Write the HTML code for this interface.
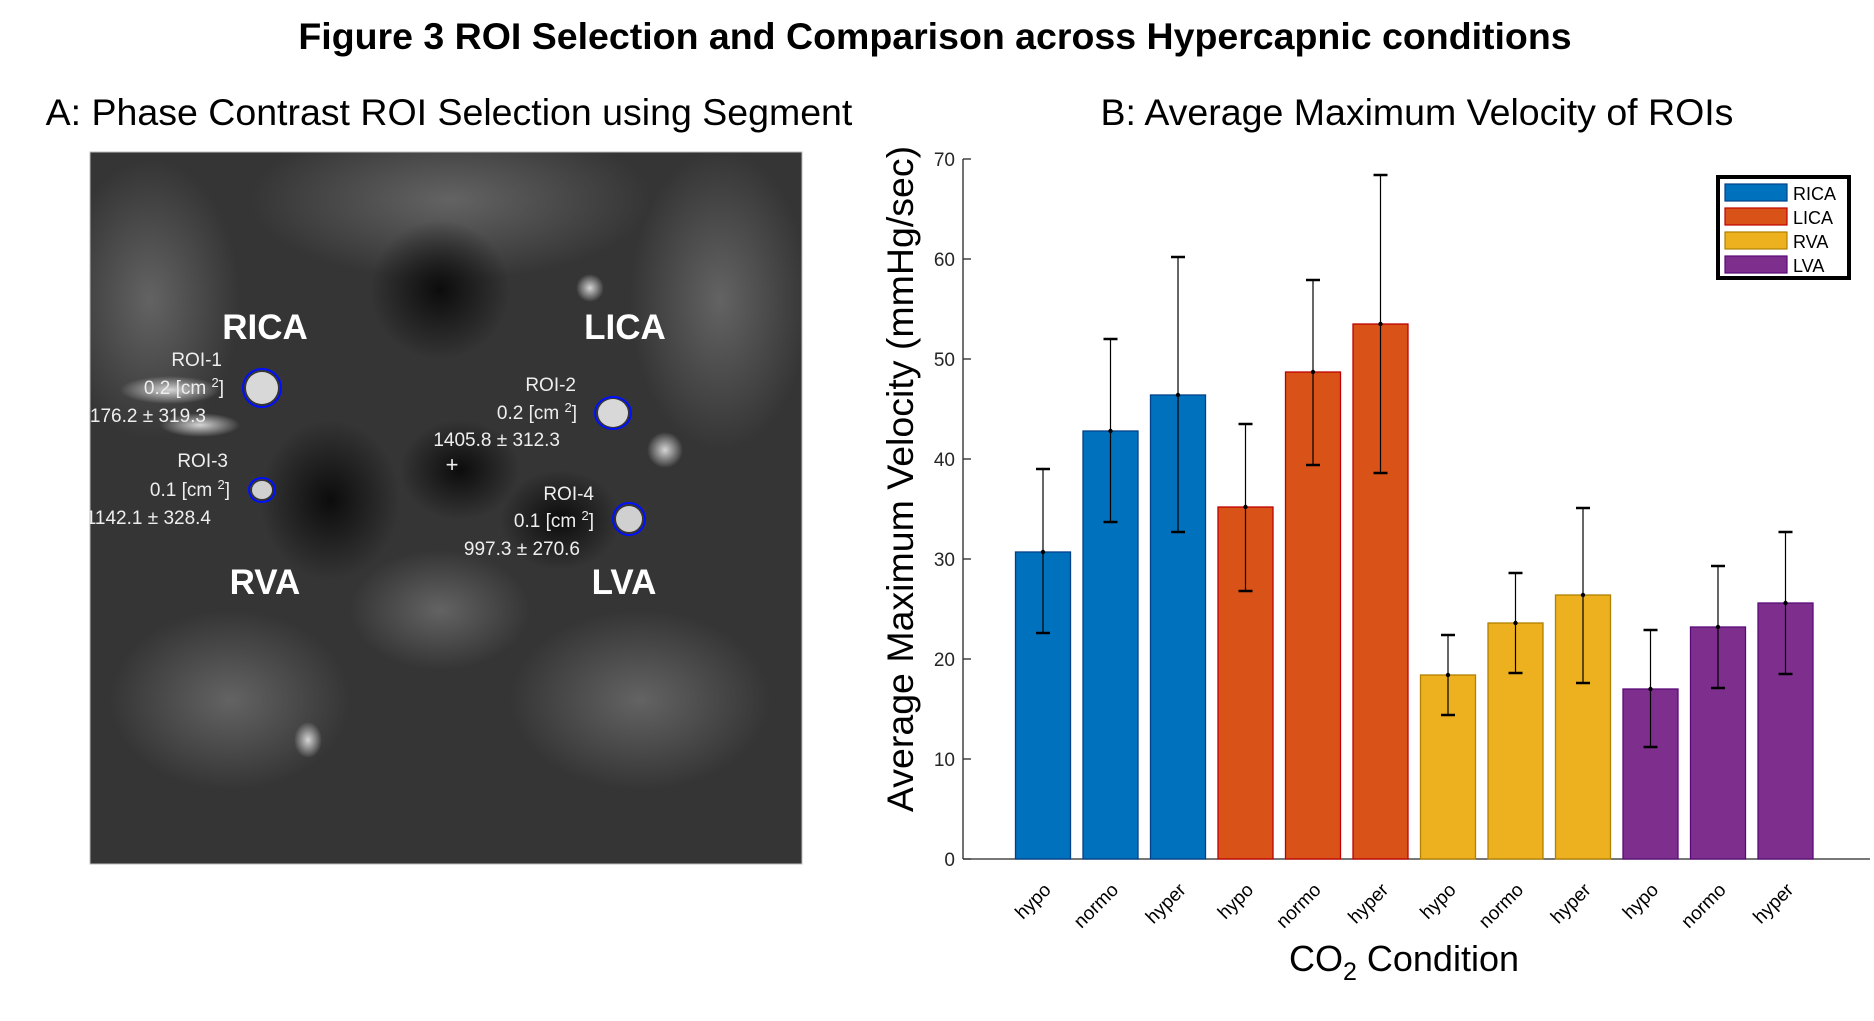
<!DOCTYPE html>
<html><head><meta charset="utf-8">
<style>
html,body{margin:0;padding:0;background:#fff;}
body{width:1874px;height:1016px;overflow:hidden;font-family:"Liberation Sans",Arial,sans-serif;}
svg text{font-family:"Liberation Sans",Arial,sans-serif;}
</style></head>
<body>
<svg id="fig" width="1874" height="1016" viewBox="0 0 1874 1016" xmlns="http://www.w3.org/2000/svg">
<defs>
  <radialGradient id="blob" cx="50%" cy="50%" r="50%">
    <stop offset="0%" stop-color="#ddd" stop-opacity="0.95"/>
    <stop offset="100%" stop-color="#ddd" stop-opacity="0"/>
  </radialGradient>
  <radialGradient id="dark" cx="50%" cy="50%" r="50%">
    <stop offset="0%" stop-color="#0a0a0a" stop-opacity="0.95"/>
    <stop offset="100%" stop-color="#0a0a0a" stop-opacity="0"/>
  </radialGradient>
  <radialGradient id="mid" cx="50%" cy="50%" r="50%">
    <stop offset="0%" stop-color="#777" stop-opacity="0.7"/>
    <stop offset="100%" stop-color="#777" stop-opacity="0"/>
  </radialGradient>
  <clipPath id="imgclip"><rect x="90" y="152" width="712" height="712"/></clipPath>
</defs>

<text x="935" y="49" text-anchor="middle" font-size="37.5" font-weight="bold">Figure 3 ROI Selection and Comparison across Hypercapnic conditions</text>
<text x="449" y="125" text-anchor="middle" font-size="37.5">A: Phase Contrast ROI Selection using Segment</text>
<text x="1417" y="125" text-anchor="middle" font-size="37.5">B: Average Maximum Velocity of ROIs</text>

<g clip-path="url(#imgclip)">
  <rect x="90" y="152" width="712" height="712" fill="#353535"/>
  <ellipse cx="450" cy="200" rx="200" ry="80" fill="url(#mid)"/>
  <ellipse cx="150" cy="300" rx="90" ry="140" fill="url(#mid)"/>
  <ellipse cx="720" cy="300" rx="90" ry="150" fill="url(#mid)"/>
  <ellipse cx="440" cy="290" rx="70" ry="70" fill="url(#dark)"/>
  <ellipse cx="330" cy="500" rx="70" ry="80" fill="url(#dark)"/>
  <ellipse cx="460" cy="470" rx="60" ry="50" fill="url(#dark)"/>
  <ellipse cx="560" cy="520" rx="60" ry="50" fill="url(#dark)"/>
  <ellipse cx="440" cy="610" rx="90" ry="60" fill="url(#mid)"/>
  <ellipse cx="230" cy="700" rx="120" ry="90" fill="url(#mid)"/>
  <ellipse cx="640" cy="700" rx="130" ry="90" fill="url(#mid)"/>
  <ellipse cx="170" cy="390" rx="50" ry="14" fill="url(#blob)"/>
  <ellipse cx="200" cy="425" rx="40" ry="12" fill="url(#blob)"/>
  <ellipse cx="590" cy="288" rx="14" ry="14" fill="url(#blob)"/>
  <ellipse cx="665" cy="450" rx="18" ry="18" fill="url(#blob)"/>
  <ellipse cx="308" cy="740" rx="14" ry="18" fill="url(#blob)"/>
  <ellipse cx="262" cy="388" rx="16" ry="16" fill="#d8d8d8"/>
  <ellipse cx="613" cy="413" rx="15" ry="14" fill="#d8d8d8"/>
  <ellipse cx="262" cy="490" rx="10" ry="9" fill="#d0d0d0"/>
  <ellipse cx="629" cy="519" rx="13" ry="13" fill="#d0d0d0"/>
</g>
<rect x="90" y="152" width="712" height="712" fill="none" stroke="#bbb" stroke-width="1"/>
<g fill="none" stroke="#0010ff" stroke-width="2">
  <circle cx="262" cy="388" r="19"/>
  <ellipse cx="613" cy="413" rx="18" ry="16"/>
  <ellipse cx="262" cy="490" rx="13" ry="12"/>
  <circle cx="629" cy="519" r="16"/>
</g>
<g clip-path="url(#imgclip)" fill="#eee" font-size="19">
  <text x="222" y="366" text-anchor="end">ROI-1</text>
  <text x="224" y="394" text-anchor="end">0.2 [cm <tspan font-size="13" dy="-7">2</tspan><tspan dy="7">]</tspan></text>
  <text x="206" y="422" text-anchor="end">176.2 ± 319.3</text>
  <text x="228" y="467" text-anchor="end">ROI-3</text>
  <text x="230" y="496" text-anchor="end">0.1 [cm <tspan font-size="13" dy="-7">2</tspan><tspan dy="7">]</tspan></text>
  <text x="211" y="524" text-anchor="end">1142.1 ± 328.4</text>
  <text x="576" y="391" text-anchor="end">ROI-2</text>
  <text x="577" y="419" text-anchor="end">0.2 [cm <tspan font-size="13" dy="-7">2</tspan><tspan dy="7">]</tspan></text>
  <text x="560" y="446" text-anchor="end">1405.8 ± 312.3</text>
  <text x="452" y="472" text-anchor="middle" font-size="22">+</text>
  <text x="594" y="500" text-anchor="end">ROI-4</text>
  <text x="594" y="527" text-anchor="end">0.1 [cm <tspan font-size="13" dy="-7">2</tspan><tspan dy="7">]</tspan></text>
  <text x="580" y="555" text-anchor="end">997.3 ± 270.6</text>
</g>
<g fill="#fff" font-size="35" font-weight="bold" text-anchor="middle">
  <text x="265" y="339">RICA</text>
  <text x="625" y="339">LICA</text>
  <text x="265" y="594">RVA</text>
  <text x="624" y="594">LVA</text>
</g>

<g id="chart"></g>
</svg>

<script>
const categories = ["hypo","normo","hyper","hypo","normo","hyper","hypo","normo","hyper","hypo","normo","hyper"];
const vessels = ["RICA","LICA","RVA","LVA"];
const values = [30.7, 42.8, 46.4, 35.2, 48.7, 53.5, 18.4, 23.6, 26.4, 17.0, 23.2, 25.6];
const errLow = [22.6, 33.7, 32.7, 26.8, 39.4, 38.6, 14.4, 18.6, 17.6, 11.2, 17.1, 18.5];
const errHigh = [39.0, 52.0, 60.2, 43.5, 57.9, 68.4, 22.4, 28.6, 35.1, 22.9, 29.3, 32.7];
const yTicks = [0, 10, 20, 30, 40, 50, 60, 70];

const NS = "http://www.w3.org/2000/svg";
const fills = ["#0072bd","#d95319","#edb120","#7e2f8e"];
const strokes = ["#00408a","#c00000","#b08000","#5a0a78"];
const X0 = 963, X1 = 1870, Y0 = 859, Y1 = 159;
const yMax = 70;
function ys(v){ return Y0 - (v / yMax) * (Y0 - Y1); }
const firstC = 1043, pitch = 67.5, bw = 55;
function xs(i){ return firstC + i * pitch; }

const g = document.getElementById('chart');
function mk(tag, attrs, parent){
  const e = document.createElementNS(NS, tag);
  for (const k in attrs) e.setAttribute(k, attrs[k]);
  (parent || g).appendChild(e);
  return e;
}

let ax = mk('line', {x1:X0, y1:Y0, x2:X1, y2:Y0, stroke:'#262626', 'stroke-width':1.3});


let ay = mk('line', {x1:X0, y1:Y0, x2:X0, y2:Y1, stroke:'#262626', 'stroke-width':1.3});



yTicks.forEach(t => {
  const y = ys(t);
  const tk = mk('line', {x1:X0, y1:y, x2:X0+8, y2:y, stroke:'#262626', 'stroke-width':1.3});
  
  
  const lb = mk('text', {x:X0-8, y:y+7, 'text-anchor':'end', 'font-size':19, fill:'#262626'});
  lb.textContent = t;
  
  
});

values.forEach((v, i) => {
  const grp = Math.floor(i / 3);
  const cx = xs(i);
  const bar = mk('rect', {x:cx-bw/2, y:ys(v), width:bw, height:Y0-ys(v), fill:fills[grp], stroke:strokes[grp], 'stroke-width':1.3});
  
  
  const el = mk('line', {x1:cx, y1:ys(errLow[i]), x2:cx, y2:ys(errHigh[i]), stroke:'#000', 'stroke-width':1.2});
  
  
  [errLow[i], errHigh[i]].forEach(e => {
    const cap = mk('line', {x1:cx-7, y1:ys(e), x2:cx+7, y2:ys(e), stroke:'#000', 'stroke-width':2.5});
    
    
  });
  const dot = mk('circle', {cx:cx, cy:ys(v), r:2.2, fill:'#000'});
  
  
  const xl = mk('text', {x:cx+9, y:Y0+32, 'text-anchor':'end', 'font-size':19, fill:'#000', transform:'rotate(-45 '+(cx+9)+' '+(Y0+32)+')'});
  xl.textContent = categories[i];
  
  
});

const yt = mk('text', {x:0, y:0, 'text-anchor':'middle', 'font-size':37.5, fill:'#000', transform:'translate(913 479) rotate(-90)'});
yt.textContent = 'Average Maximum Velocity (mmHg/sec)';


const xt = mk('text', {x:1404, y:971, 'text-anchor':'middle', 'font-size':36, fill:'#000'});


xt.innerHTML = 'CO<tspan font-size="25" dy="9">2</tspan><tspan dy="-9"> Condition</tspan>';

const lg = mk('g', {});


mk('rect', {x:1718, y:177, width:131, height:101, fill:'#fff', stroke:'#000', 'stroke-width':4}, lg);
vessels.forEach((name, k) => {
  const y = 184 + k * 24;
  const sw = mk('rect', {x:1725, y:y, width:62, height:17, fill:fills[k], stroke:strokes[k], 'stroke-width':1.2}, lg);
  
  
  const tx = mk('text', {x:1793, y:y+16, 'font-size':18, fill:'#000'}, lg);
  tx.textContent = name;
  
  
});
</script>
</body></html>
